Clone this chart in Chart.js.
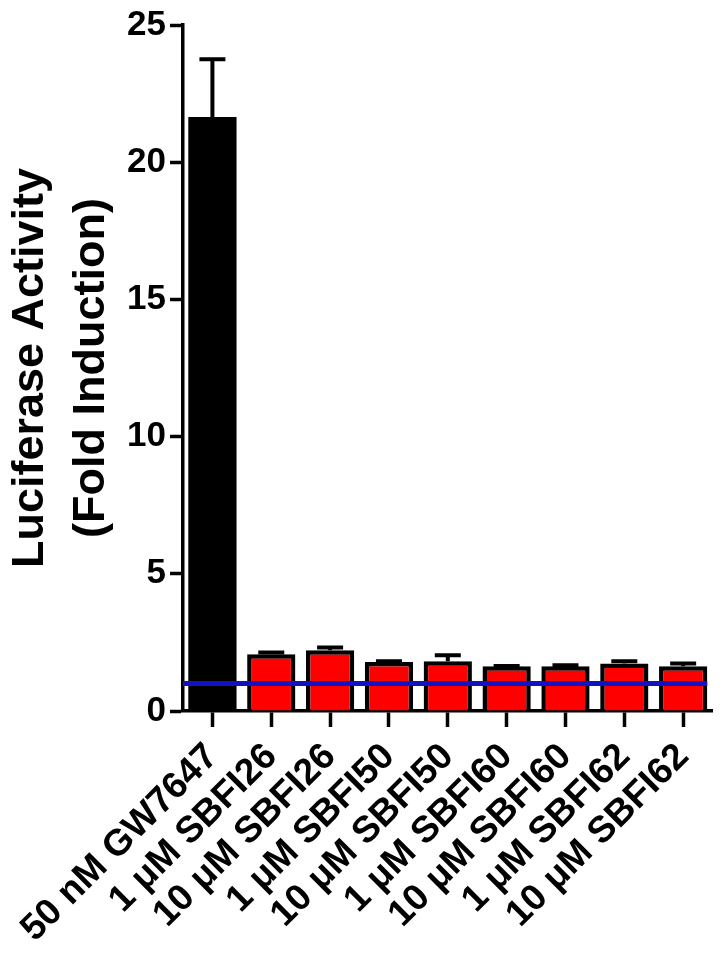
<!DOCTYPE html>
<html>
<head>
<meta charset="utf-8">
<script src="https://cdn.jsdelivr.net/npm/chart.js@4.4.1/dist/chart.umd.min.js"></script>
<style>
  html, body { margin: 0; padding: 0; background: #fff; }
  #wrap { width: 723px; height: 953px; }
</style>
</head>
<body>
<div id="wrap"><canvas id="luciferase"></canvas></div>
<script>
// Werte
const treatments = [
  "50 nM GW7647",
  "1 \u03bcM SBFI26",
  "10 \u03bcM SBFI26",
  "1 \u03bcM SBFI50",
  "10 \u03bcM SBFI50",
  "1 \u03bcM SBFI60",
  "10 \u03bcM SBFI60",
  "1 \u03bcM SBFI62",
  "10 \u03bcM SBFI62",
];
const foldInduction = [21.65, 2.07, 2.21, 1.79, 1.81, 1.63, 1.63, 1.73, 1.63];
const upperError = [2.1, 0.06, 0.1, 0.02, 0.22, 0.01, 0.04, 0.08, 0.1];
const yTicks = [0, 5, 10, 15, 20, 25];
const baselineFold = 1;

const FONT = '"Liberation Sans", Arial, sans-serif';

// Fehlerbalken (nur nach oben)
const errorBars = {
  id: "errorBars",
  afterDatasetsDraw(chart) {
    const { ctx, scales } = chart;
    const meta = chart.getDatasetMeta(0);
    ctx.save();
    ctx.strokeStyle = "#000";
    ctx.lineWidth = 4;
    meta.data.forEach((bar, i) => {
      if (!upperError[i]) return;
      const top = scales.y.getPixelForValue(foldInduction[i] + upperError[i]);
      ctx.beginPath();
      ctx.moveTo(bar.x, bar.y);
      ctx.lineTo(bar.x, top);
      ctx.moveTo(bar.x - 13, top);
      ctx.lineTo(bar.x + 13, top);
      ctx.stroke();
    });
    ctx.restore();
  },
};

// blaue Linie bei Fold = 1
const baseline = {
  id: "baseline",
  afterDatasetsDraw(chart) {
    const { ctx, chartArea, scales } = chart;
    const meta = chart.getDatasetMeta(0);
    const last = meta.data[meta.data.length - 1];
    const yPix = scales.y.getPixelForValue(baselineFold);
    ctx.save();
    ctx.strokeStyle = "#1212c4";
    ctx.lineWidth = 5;
    ctx.beginPath();
    ctx.moveTo(chartArea.left, yPix);
    ctx.lineTo(last.x + last.width / 2, yPix);
    ctx.stroke();
    ctx.restore();
  },
};

new Chart(document.getElementById("luciferase"), {
  type: "bar",
  data: {
    labels: treatments,
    datasets: [
      {
        data: foldInduction,
        backgroundColor: (c) => (c.dataIndex === 0 ? "#000000" : "#ff0000"),
        borderColor: "#000000",
        borderWidth: (c) => (c.dataIndex === 0 ? 0 : 4.5),
        barPercentage: 0.82,
        categoryPercentage: 1,
      },
    ],
  },
  options: {
    responsive: true,
    maintainAspectRatio: false,
    animation: false,
    layout: { padding: { top: 21, right: 8, left: 0, bottom: 0 } },
    plugins: {
      legend: { display: false },
      tooltip: { enabled: false },
    },
    scales: {
      x: {
        afterFit: (s) => { s.height = 242; },
        grid: {
          drawOnChartArea: false,
          offset: false,
          color: "#000",
          tickColor: "#000",
          tickLength: 16,
          tickWidth: 3.5,
        },
        border: { display: true, color: "#000", width: 3.5 },
        ticks: {
          color: "#000",
          minRotation: 45,
          maxRotation: 45,
          autoSkip: false,
          padding: 8,
          font: { family: FONT, size: 37, weight: "bold" },
        },
      },
      y: {
        min: 0,
        max: 25,
        afterFit: (s) => { s.width = 183; },
        afterBuildTicks: (s) => { s.ticks = yTicks.map((v) => ({ value: v })); },
        grid: {
          drawOnChartArea: false,
          color: "#000",
          tickColor: "#000",
          tickLength: 13,
          tickWidth: 3.5,
        },
        border: { display: true, color: "#000", width: 3.5 },
        ticks: {
          color: "#000",
          padding: 4,
          font: { family: FONT, size: 35, weight: "bold" },
        },
        title: {
          display: true,
          text: ["Luciferase Activity", "(Fold Induction)"],
          color: "#000",
          padding: { top: 0, bottom: 0 },
          font: { family: FONT, size: 45, weight: "bold", lineHeight: 1.35 },
        },
      },
    },
  },
  plugins: [errorBars, baseline],
});
</script>
</body>
</html>
